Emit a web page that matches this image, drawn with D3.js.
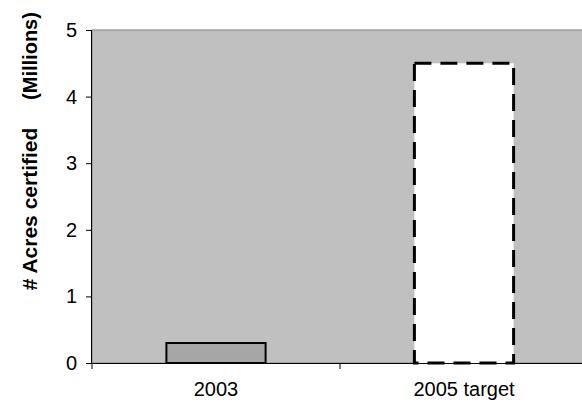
<!DOCTYPE html>
<html>
<head>
<meta charset="utf-8">
<script src="https://cdn.jsdelivr.net/npm/d3@7.9.0/dist/d3.min.js"></script>
<style>
  body { margin: 0; background: #fff; }
  text { font-family: "Liberation Sans", Arial, sans-serif; }
</style>
</head>
<body>
<div id="chart"></div>
<script>
const categories = ['2003', '2005 target'];
const acres = [0.3, 4.5];
const yTicks = [0, 1, 2, 3, 4, 5];

const width = 582;
const height = 403;
const margin = { top: 30, right: -6, bottom: 40, left: 92 };
const innerW = width - margin.left - margin.right;
const innerH = height - margin.top - margin.bottom;
const font = '"Liberation Sans", Arial, sans-serif';

const svg = d3.select('#chart').append('svg')
  .attr('width', width)
  .attr('height', height);

const g = svg.append('g').attr('transform', `translate(${margin.left},${margin.top})`);

const x = d3.scaleBand().domain(categories).range([0, innerW]).paddingInner(0).paddingOuter(0);
const y = d3.scaleLinear().domain([0, 5]).range([innerH, 0]);

// plot background
g.append('rect')
  .attr('x', 0).attr('y', 0)
  .attr('width', innerW).attr('height', innerH)
  .attr('fill', '#c0c0c0')
  .attr('stroke', '#808080')
  .attr('stroke-width', 1);

// bars
const barW = x.bandwidth() * 0.4;
g.selectAll('.bar')
  .data(acres)
  .join('rect')
  .attr('class', 'bar')
  .attr('x', (d, i) => x(categories[i]) + (x.bandwidth() - barW) / 2)
  .attr('y', d => y(d))
  .attr('width', barW)
  .attr('height', d => y(0) - y(d))
  .attr('fill', (d, i) => i === 0 ? '#a6a6a6' : '#ffffff')
  .attr('stroke', '#000')
  .attr('stroke-width', (d, i) => i === 0 ? 2 : 3)
  .attr('stroke-dasharray', (d, i) => i === 0 ? null : '17,9');

// y axis
const yAxis = g.append('g')
  .call(d3.axisLeft(y).tickValues(yTicks).tickSize(6).tickPadding(9).tickFormat(d3.format('d')));
yAxis.select('.domain').attr('stroke', '#000').attr('d', `M-0.5,${innerH}V0`);
yAxis.selectAll('text').attr('font-size', 20).attr('fill', '#000').style('font-family', font);

// x axis
const xAxis = g.append('g')
  .attr('transform', `translate(0,${innerH})`)
  .call(d3.axisBottom(x).tickSize(0).tickPadding(19));
xAxis.select('.domain').attr('stroke', '#000').attr('d', `M0,0.5H${innerW}`);
xAxis.selectAll('text').attr('font-size', 20).attr('fill', '#000').style('font-family', font);

// category boundary ticks
g.selectAll('.xtick')
  .data([0, 1, 2])
  .join('line')
  .attr('x1', i => i * x.bandwidth())
  .attr('x2', i => i * x.bandwidth())
  .attr('y1', innerH)
  .attr('y2', innerH + 6)
  .attr('stroke', '#000');

// y label
svg.append('text')
  .attr('transform', 'translate(37,209) rotate(-90)')
  .attr('text-anchor', 'middle')
  .attr('font-size', 21)
  .attr('font-weight', 'bold')
  .text('# Acres certified');

svg.append('text')
  .attr('transform', 'translate(37,56) rotate(-90)')
  .attr('text-anchor', 'middle')
  .attr('font-size', 20)
  .attr('font-weight', 'bold')
  .text('(Millions)');
</script>
</body>
</html>
